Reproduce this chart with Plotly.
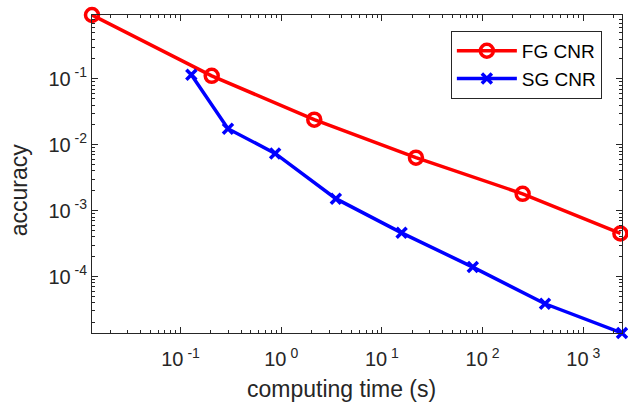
import plotly.graph_objects as go
import numpy as np

fg_time = [0.0132, 0.204, 2.13, 21.8, 250, 2340]
fg_acc = [0.93, 0.111, 0.024, 0.00636, 0.0018, 0.00045]
sg_time = [0.128, 0.296, 0.87, 3.49, 15.7, 80, 417, 2427]
sg_acc = [0.115, 0.0175, 0.00738, 0.00152, 0.00046, 0.000139, 0.0000386, 0.0000139]

x_tickvals = [0.1, 1, 10, 100, 1000]
x_ticktext = ["10<sup> -1</sup>", "10<sup> 0</sup>", "10<sup> 1</sup>", "10<sup> 2</sup>", "10<sup> 3</sup>"]
y_tickvals = [1e-4, 1e-3, 1e-2, 1e-1]
y_ticktext = ["10<sup> -4</sup>", "10<sup> -3</sup>", "10<sup> -2</sup>", "10<sup> -1</sup>"]

x_range = [np.log10(0.0132), np.log10(2427)]
y_range = [np.log10(1.39e-5), np.log10(0.93)]

x_minor = [m * 10.0 ** k for k in range(-2, 4) for m in range(2, 10)]
y_minor = [m * 10.0 ** k for k in range(-5, 0) for m in range(2, 10)]

FONT = "Liberation Sans, Arial, sans-serif"
AX = "#262626"

fig = go.Figure()
fig.add_trace(go.Scatter(x=fg_time, y=fg_acc, mode="lines+markers", name="FG CNR",
                         line=dict(color="#ff0000", width=3.5),
                         marker=dict(symbol="circle-open", size=13, color="#ff0000", line=dict(width=3.5)),
                         cliponaxis=False))
fig.add_trace(go.Scatter(x=sg_time, y=sg_acc, mode="lines+markers", name="SG CNR",
                         line=dict(color="#0000ff", width=3.5),
                         marker=dict(symbol="x-thin-open", size=10, color="#0000ff", line=dict(width=3.5, color="#0000ff")),
                         cliponaxis=False))

axis_common = dict(showgrid=False, zeroline=False, showline=True, linecolor=AX, linewidth=1,
                   mirror="ticks", ticks="inside", ticklen=6, tickcolor=AX,
                   tickfont=dict(family=FONT, size=20, color=AX))

fig.update_layout(
    xaxis=dict(type="log", range=x_range, tickvals=x_tickvals, ticktext=x_ticktext,
               ticklabelstandoff=8,
               minor=dict(tickmode="array", tickvals=x_minor, ticks="inside", ticklen=3, tickcolor=AX, showgrid=False),
               **axis_common),
    yaxis=dict(type="log", range=y_range, tickvals=y_tickvals, ticktext=y_ticktext,
               minor=dict(tickmode="array", tickvals=y_minor, ticks="inside", ticklen=3, tickcolor=AX, showgrid=False),
               **axis_common),
    annotations=[
        dict(text="computing time (s)", xref="paper", yref="paper", x=0.47, y=-0.175,
             xanchor="center", yanchor="middle", showarrow=False,
             font=dict(family=FONT, size=23, color=AX)),
        dict(text="accuracy", xref="paper", yref="paper", x=-0.137, y=0.45,
             xanchor="center", yanchor="middle", showarrow=False, textangle=-90,
             font=dict(family=FONT, size=23, color=AX)),
    ],
    width=628, height=402, margin=dict(l=92, r=6, t=15, b=69, autoexpand=False),
    plot_bgcolor="white", paper_bgcolor="white",
    legend=dict(x=0.962, y=0.95, xanchor="right", yanchor="top",
                bgcolor="white", bordercolor=AX, borderwidth=1,
                font=dict(family=FONT, size=19, color="#000000"),
                itemwidth=60, tracegroupgap=0),
)

fig.write_html("out.html", config={"displayModeBar": False},
               post_script="document.body.style.margin='0';document.body.style.padding='0';")
